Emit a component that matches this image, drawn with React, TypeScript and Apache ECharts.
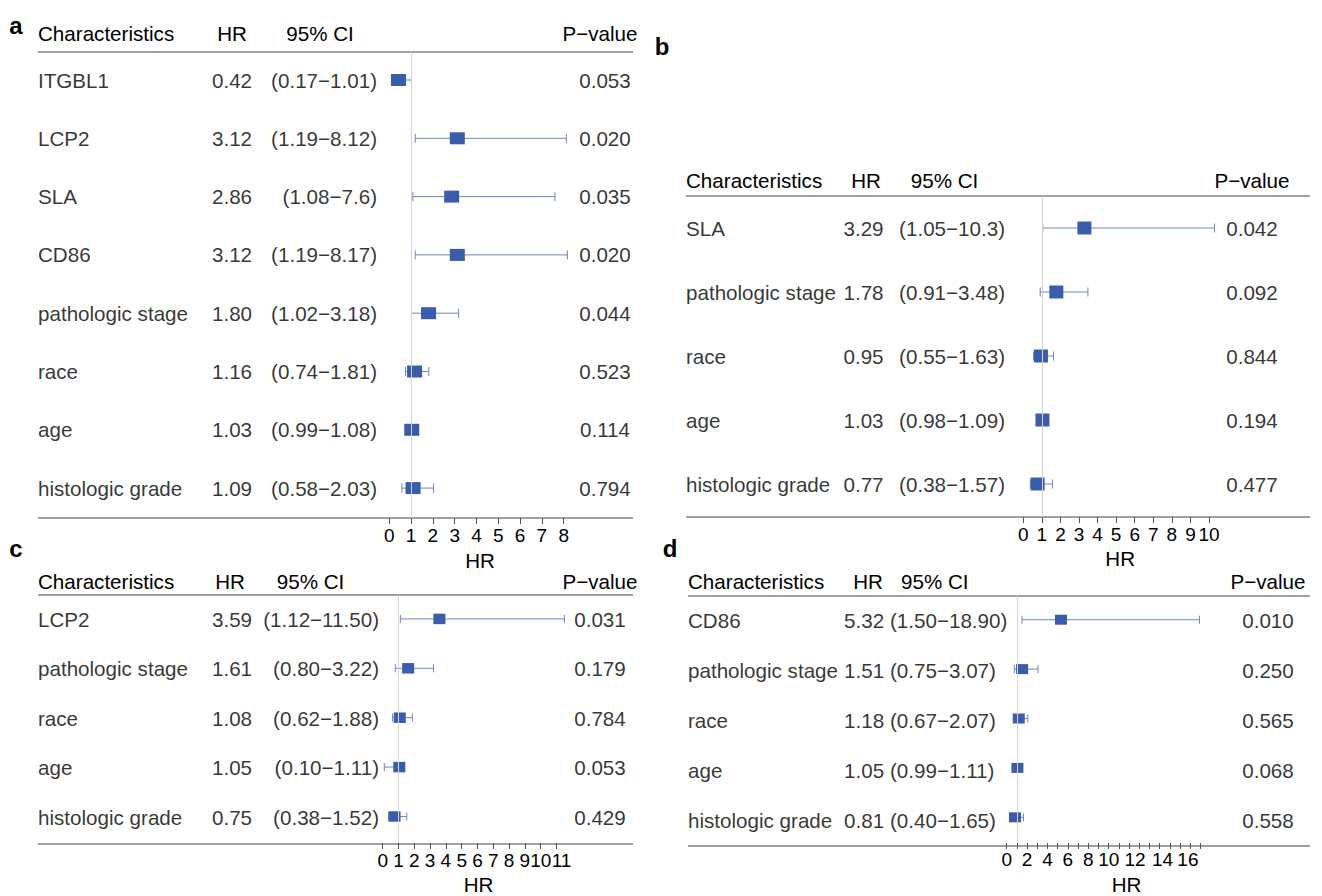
import React, { useEffect, useRef } from "react";
import * as echarts from "echarts";

// ---------- panel a ----------
const namesA = ["ITGBL1", "LCP2", "SLA", "CD86", "pathologic stage", "race", "age", "histologic grade"];
const hrA = ["0.42", "3.12", "2.86", "3.12", "1.80", "1.16", "1.03", "1.09"];
const lowA = ["0.17", "1.19", "1.08", "1.19", "1.02", "0.74", "0.99", "0.58"];
const upA = ["1.01", "8.12", "7.6", "8.17", "3.18", "1.81", "1.08", "2.03"];
const pA = ["0.053", "0.020", "0.035", "0.020", "0.044", "0.523", "0.114", "0.794"];

// ---------- panel b ----------
const namesB = ["SLA", "pathologic stage", "race", "age", "histologic grade"];
const hrB = ["3.29", "1.78", "0.95", "1.03", "0.77"];
const lowB = ["1.05", "0.91", "0.55", "0.98", "0.38"];
const upB = ["10.3", "3.48", "1.63", "1.09", "1.57"];
const pB = ["0.042", "0.092", "0.844", "0.194", "0.477"];

// ---------- panel c ----------
const namesC = ["LCP2", "pathologic stage", "race", "age", "histologic grade"];
const hrC = ["3.59", "1.61", "1.08", "1.05", "0.75"];
const lowC = ["1.12", "0.80", "0.62", "0.10", "0.38"];
const upC = ["11.50", "3.22", "1.88", "1.11", "1.52"];
const pC = ["0.031", "0.179", "0.784", "0.053", "0.429"];

// ---------- panel d ----------
const namesD = ["CD86", "pathologic stage", "race", "age", "histologic grade"];
const hrD = ["5.32", "1.51", "1.18", "1.05", "0.81"];
const lowD = ["1.50", "0.75", "0.67", "0.99", "0.40"];
const upD = ["18.90", "3.07", "2.07", "1.11", "1.65"];
const pD = ["0.010", "0.250", "0.565", "0.068", "0.558"];

// axis tick ranges (max value of each HR axis)
const axisMaxA = 8;
const axisMaxB = 10;
const axisMaxC = 11;
const axisMaxD = 19;

const headerTexts = ["Characteristics", "HR", "95% CI", "P\u2212value"];

const FONT = '"Liberation Sans", Arial, Helvetica, sans-serif';
const TEXT_SIZE = 20.6;
const TICK_SIZE = 19;
const BOX_COLOR = "#3a5caa";
const WHISKER_COLOR = "#6f86c1";
const RULE_COLOR = "#808080";
const REF_COLOR = "#d6d6d6";
const TICK_COLOR = "#555555";

type Align = "left" | "center" | "right";

interface Layout {
  letter: string;
  letterX: number;
  letterY: number;
  left: number;
  right: number;
  headerY: number;
  headerX: [number, number, number, number];
  headerAlign: [Align, Align, Align, Align];
  topRule: number;
  bottomRule: number;
  firstRow: number;
  rowStep: number;
  plotLeft: number;
  plotWidth: number;
  hrCol: [number, Align];
  ciCol: [number, Align];
  pCol: [number, Align];
  box: [number, number];
  cap: number;
  namePad: number;
  labelMargin: number;
  labelFormatter?: (v: number) => string;
}

interface Panel {
  layout: Layout;
  axisMax: number;
  names: string[];
  hr: string[];
  low: string[];
  up: string[];
  p: string[];
}

const minus = "\u2212";

// panel c: the two-digit labels sit shoulder to shoulder, so they get narrow boxes
const cFormatter = (v: number) => (v === 10 ? `{n|${v}}` : v === 11 ? `{m|${v}}` : String(v));

// panel d: labels on every second tick, crowded two-digit labels nudged apart
const dFormatter = (v: number) => {
  if (v % 2 !== 0 || v > 16) return "";
  if (v === 12 || v === 14 || v === 16) return `{s${v}|${v}}`;
  return String(v);
};

const tickRich = {
  n: { fontSize: TICK_SIZE, fontFamily: FONT, color: "#000", width: 10, align: "center" },
  m: { fontSize: TICK_SIZE, fontFamily: FONT, color: "#000", width: 10, align: "center", padding: [0, 0, 0, 10] },
  s12: { fontSize: TICK_SIZE, fontFamily: FONT, color: "#000", padding: [0, 0, 0, 12] },
  s14: { fontSize: TICK_SIZE, fontFamily: FONT, color: "#000", padding: [0, 0, 0, 26] },
  s16: { fontSize: TICK_SIZE, fontFamily: FONT, color: "#000", padding: [0, 0, 0, 36] },
};

const panels: Panel[] = [
  {
    layout: {
      letter: "a", letterX: 16, letterY: 25,
      left: 38, right: 633, headerY: 33,
      headerX: [0, 194, 282, 562], headerAlign: ["left", "center", "center", "center"],
      topRule: 52, bottomRule: 518, firstRow: 80, rowStep: 58.3,
      plotLeft: 389.3, plotWidth: 174.4,
      hrCol: [194, "center"], ciCol: [339, "right"], pCol: [567, "center"],
      box: [15, 12], cap: 9, namePad: 7, labelMargin: 8,
    },
    axisMax: axisMaxA, names: namesA, hr: hrA, low: lowA, up: upA, p: pA,
  },
  {
    layout: {
      letter: "b", letterX: 662, letterY: 46,
      left: 686, right: 1310, headerY: 180,
      headerX: [0, 180, 258.5, 566], headerAlign: ["left", "center", "center", "center"],
      topRule: 196, bottomRule: 517, firstRow: 228, rowStep: 64,
      plotLeft: 1023.3, plotWidth: 185.7,
      hrCol: [177.5, "center"], ciCol: [319, "right"], pCol: [566, "center"],
      box: [14, 13], cap: 9, namePad: 8, labelMargin: 8,
    },
    axisMax: axisMaxB, names: namesB, hr: hrB, low: lowB, up: upB, p: pB,
  },
  {
    layout: {
      letter: "c", letterX: 16, letterY: 548,
      left: 38, right: 633, headerY: 581,
      headerX: [0, 192, 272.5, 562], headerAlign: ["left", "center", "center", "center"],
      topRule: 595, bottomRule: 844, firstRow: 619, rowStep: 49.6,
      plotLeft: 382.7, plotWidth: 173.8,
      hrCol: [194, "center"], ciCol: [341, "right"], pCol: [562, "center"],
      box: [12, 10.5], cap: 8, namePad: 18, labelMargin: 8,
      labelFormatter: cFormatter,
    },
    axisMax: axisMaxC, names: namesC, hr: hrC, low: lowC, up: upC, p: pC,
  },
  {
    layout: {
      letter: "d", letterX: 670, letterY: 548,
      left: 688, right: 1310, headerY: 581,
      headerX: [0, 180, 213, 580], headerAlign: ["left", "center", "left", "center"],
      topRule: 596, bottomRule: 846, firstRow: 620, rowStep: 50,
      plotLeft: 1006.7, plotWidth: 193.8,
      hrCol: [156, "left"], ciCol: [202, "left"], pCol: [580, "center"],
      box: [12, 10], cap: 8, namePad: 46, labelMargin: 7,
      labelFormatter: dFormatter,
    },
    axisMax: axisMaxD, names: namesD, hr: hrD, low: lowD, up: upD, p: pD,
  },
];

const textStyle = { color: "#000", fontSize: TEXT_SIZE, fontFamily: FONT };

function buildOption() {
  const grid: any[] = [];
  const xAxis: any[] = [];
  const yAxis: any[] = [];
  const series: any[] = [];
  const graphic: any[] = [];

  panels.forEach((pn) => {
    const L = pn.layout;
    const n = pn.names.length;
    const lastRow = L.firstRow + (n - 1) * L.rowStep;
    const yMin = -(L.firstRow - L.topRule) / L.rowStep;
    const yMax = n - 1 + (L.bottomRule - lastRow) / L.rowStep;
    const height = L.bottomRule - L.topRule;

    // forest plot area
    const gp = grid.length;
    grid.push({ left: L.plotLeft, top: L.topRule, width: L.plotWidth, height });
    xAxis.push({
      gridIndex: gp,
      type: "value",
      position: "bottom",
      min: 0,
      max: pn.axisMax,
      interval: 1,
      axisLine: { show: false, onZero: false },
      axisTick: { show: true, inside: false, length: 6, lineStyle: { color: TICK_COLOR, width: 1 } },
      axisLabel: {
        show: true,
        showMinLabel: true,
        showMaxLabel: true,
        hideOverlap: false,
        margin: L.labelMargin,
        fontSize: TICK_SIZE,
        color: "#000",
        fontFamily: FONT,
        formatter: L.labelFormatter ? L.labelFormatter : (v: number) => String(v),
        rich: tickRich,
      },
      splitLine: { show: false },
      name: "HR",
      nameLocation: "middle",
      nameGap: 31,
      nameTextStyle: { ...textStyle, padding: [0, 0, 0, L.namePad] },
    });
    yAxis.push({ gridIndex: gp, type: "value", inverse: true, min: yMin, max: yMax, show: false });

    // table text area
    const gt = grid.length;
    const tableWidth = L.right - L.left;
    grid.push({ left: L.left, top: L.topRule, width: tableWidth, height });
    xAxis.push({ gridIndex: gt, type: "value", min: 0, max: tableWidth, show: false });
    yAxis.push({ gridIndex: gt, type: "value", inverse: true, min: yMin, max: yMax, show: false });

    // confidence intervals with end caps, plus the HR = 1 reference line
    series.push({
      type: "custom",
      xAxisIndex: gp,
      yAxisIndex: gp,
      z: 2,
      silent: true,
      data: pn.low.map((lo, i) => [Number(lo), Number(pn.up[i]), i]),
      encode: { x: [0, 1], y: 2 },
      renderItem: (_params: any, api: any) => {
        const a = api.coord([api.value(0), api.value(2)]);
        const b = api.coord([api.value(1), api.value(2)]);
        const h = L.cap / 2;
        const style = { stroke: WHISKER_COLOR, lineWidth: 1 };
        return {
          type: "group",
          children: [
            { type: "line", shape: { x1: a[0], y1: a[1], x2: b[0], y2: b[1] }, style },
            { type: "line", shape: { x1: a[0], y1: a[1] - h, x2: a[0], y2: a[1] + h }, style },
            { type: "line", shape: { x1: b[0], y1: b[1] - h, x2: b[0], y2: b[1] + h }, style },
          ],
        };
      },
      markLine: {
        silent: true,
        symbol: ["none", "none"],
        label: { show: false },
        lineStyle: { color: REF_COLOR, width: 1, type: "solid" },
        data: [{ xAxis: 1 }],
      },
    });

    // hazard ratio boxes
    series.push({
      type: "scatter",
      xAxisIndex: gp,
      yAxisIndex: gp,
      z: 3,
      silent: true,
      symbol: "rect",
      symbolSize: L.box,
      itemStyle: { color: BOX_COLOR, opacity: 1 },
      data: pn.hr.map((h, i) => [Number(h), i]),
    });

    // table columns
    const col = (x: number, align: Align, texts: string[]) => ({
      type: "scatter",
      xAxisIndex: gt,
      yAxisIndex: gt,
      z: 4,
      silent: true,
      symbol: "circle",
      symbolSize: 1,
      itemStyle: { color: "transparent" },
      data: texts.map((t, i) => ({ name: t, value: [x, i] })),
      label: {
        show: true,
        position: "inside",
        align,
        verticalAlign: "middle",
        formatter: "{b}",
        ...textStyle,
      },
    });
    series.push(col(0, "left", pn.names));
    series.push(col(L.hrCol[0], L.hrCol[1], pn.hr));
    series.push(
      col(
        L.ciCol[0],
        L.ciCol[1],
        pn.low.map((lo, i) => `(${lo}${minus}${pn.up[i]})`)
      )
    );
    series.push(col(L.pCol[0], L.pCol[1], pn.p));

    // header row, rules and panel letter
    headerTexts.forEach((t, j) => {
      graphic.push({
        type: "text",
        x: L.left + L.headerX[j],
        y: L.headerY,
        silent: true,
        style: {
          text: t,
          fill: "#000",
          fontSize: TEXT_SIZE,
          fontFamily: FONT,
          align: L.headerAlign[j],
          textAlign: L.headerAlign[j],
          verticalAlign: "middle",
          textVerticalAlign: "middle",
        },
      });
    });
    [L.topRule, L.bottomRule].forEach((y) => {
      graphic.push({
        type: "line",
        silent: true,
        shape: { x1: L.left, y1: y, x2: L.right, y2: y },
        style: { stroke: RULE_COLOR, lineWidth: 1.5 },
      });
    });
    graphic.push({
      type: "text",
      x: L.letterX,
      y: L.letterY,
      silent: true,
      style: {
        text: L.letter,
        fill: "#000",
        fontSize: 24,
        fontWeight: "bold",
        fontFamily: FONT,
        align: "center",
        textAlign: "center",
        verticalAlign: "middle",
        textVerticalAlign: "middle",
      },
    });
  });

  return {
    animation: false,
    backgroundColor: "#ffffff",
    grid,
    xAxis,
    yAxis,
    series,
    graphic,
  };
}

export default function App() {
  const ref = useRef<HTMLDivElement>(null);

  useEffect(() => {
    document.body.style.margin = "0";
    if (!ref.current) return;
    const chart = echarts.init(ref.current, undefined, { renderer: "svg" });
    chart.setOption(buildOption() as any);
    return () => {
      chart.dispose();
    };
  }, []);

  return <div ref={ref} style={{ width: 1322, height: 896, background: "#fff" }} />;
}
